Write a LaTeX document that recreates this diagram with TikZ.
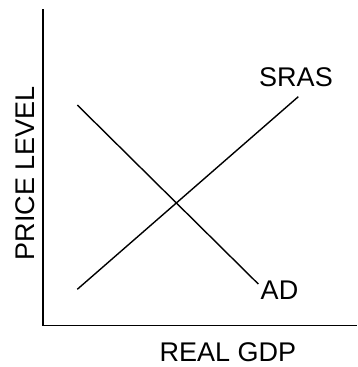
\documentclass[tikz,border=0pt]{standalone}
\usepackage{fontspec}
\setmainfont{Liberation Sans}
\begin{document}
\begin{tikzpicture}[x=1pt,y=-1pt,
  axis/.style={line width=1.7pt},
  curve/.style={line width=1.4pt},
  lbl/.style={inner sep=0pt,anchor=base,font=\fontsize{27}{30}\selectfont}]
\useasboundingbox (0,0) rectangle (357,367);
\coordinate (top) at (42.7,9);
\coordinate (o) at (42.7,325.5);
\coordinate (right) at (357,325.5);
\draw[axis] (top) -- (o) -- (right);
\coordinate (s1) at (77.3,289.3);
\coordinate (s2) at (298.3,96.7);
\coordinate (a1) at (77.3,105);
\coordinate (a2) at (258.3,284);
\draw[curve] (s1) -- (s2);
\draw[curve] (a1) -- (a2);
\node[lbl] (sras) at (296,86) {SRAS};
\node[lbl] (ad) at (279.5,299) {AD};
\node[lbl] (gdp) at (228,361) {REAL GDP};
\node[lbl,rotate=90] (pl) at (34.5,173) {PRICE LEVEL};
\end{tikzpicture}
\end{document}
